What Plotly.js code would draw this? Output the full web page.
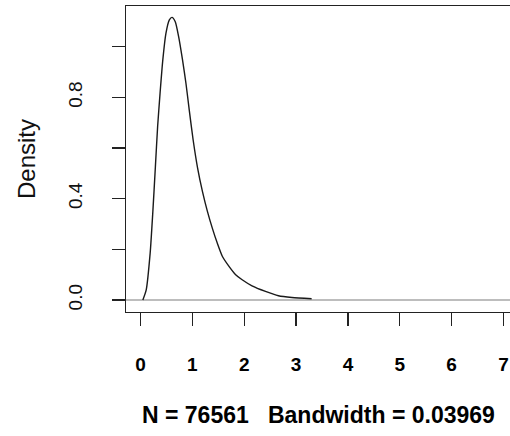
<!DOCTYPE html>
<html>
<head>
<meta charset="utf-8">
<script src="https://cdn.plot.ly/plotly-3.0.1.min.js"></script>
<style>
html,body{margin:0;padding:0;overflow:hidden;background:#fff;width:510px;height:436px;}
#chart{width:518px;height:436px;}
</style>
</head>
<body>
<div id="chart"></div>
<script>
// Density curve
const xValues = [0.045, 0.11, 0.186, 0.236, 0.287, 0.33, 0.377, 0.43, 0.49, 0.556, 0.607, 0.67, 0.735, 0.81, 0.876, 0.94, 1.015, 1.10, 1.195, 1.29, 1.386, 1.48, 1.58, 1.71, 1.835, 1.96, 2.15, 2.41, 2.66, 2.92, 3.3];
const densityValues = [0.0, 0.04, 0.185, 0.343, 0.527, 0.685, 0.817, 0.948, 1.053, 1.106, 1.116, 1.099, 1.04, 0.948, 0.856, 0.75, 0.632, 0.522, 0.428, 0.35, 0.283, 0.225, 0.172, 0.132, 0.10, 0.08, 0.056, 0.034, 0.017, 0.01, 0.005];
const xTicks = [0, 1, 2, 3, 4, 5, 6, 7];
const yTicks = [0, 0.2, 0.4, 0.6, 0.8, 1.0];
const yTickText = ["0.0", "", "0.4", "", "0.8", ""];
const subText = "N = 76561\u00A0\u00A0\u00A0Bandwidth = 0.03969";
const yTitle = "Density";

const trace = {
  x: xValues, y: densityValues, type: 'scatter', mode: 'lines',
  line: {color: '#1a1a1a', width: 1.4, shape: 'spline', smoothing: 0.6},
  hoverinfo: 'none'
};

const W = 518, L = 126;
const layout = {
  width: W, height: 436,
  margin: {l: L, r: 0, t: 6, b: 124},
  paper_bgcolor: '#fff', plot_bgcolor: '#fff',
  showlegend: false,
  xaxis: {
    range: [-0.28, 7.28], tickvals: xTicks, ticktext: xTicks.map(String),
    ticks: 'outside', ticklen: 13, tickwidth: 1.3, tickcolor: '#222',
    showline: true, mirror: true, linecolor: '#222', linewidth: 1.3,
    showgrid: false, zeroline: false,
    ticklabelstandoff: 22,
    tickfont: {family: 'Liberation Sans, Arial, sans-serif', size: 19, color: '#000', weight: 'bold'}
  },
  yaxis: {
    range: [-0.0473, 1.161], tickvals: yTicks, ticktext: yTickText,
    ticks: 'outside', ticklen: 13, tickwidth: 1.3, tickcolor: '#222',
    showline: true, mirror: false, linecolor: '#222', linewidth: 1.3,
    showgrid: false, zeroline: true, zerolinecolor: '#bdbdbd', zerolinewidth: 1.2,
    tickangle: -90, ticklabelstandoff: 22,
    tickfont: {family: 'Liberation Sans, Arial, sans-serif', size: 19, color: '#111'}
  },
  annotations: [
    {text: yTitle, xref: 'paper', yref: 'paper', x: (26 - L) / (W - L), y: (312 - 159) / 306,
     xanchor: 'center', yanchor: 'middle', textangle: -90, showarrow: false,
     font: {family: 'Liberation Sans, Arial, sans-serif', size: 24, color: '#111'}},
    {text: subText, xref: 'paper', yref: 'paper', x: (318 - L) / (W - L), y: (312 - 415) / 306,
     xanchor: 'center', yanchor: 'middle', showarrow: false,
     font: {family: 'Liberation Sans, Arial, sans-serif', size: 23, color: '#000', weight: 'bold'}}
  ]
};

Plotly.newPlot('chart', [trace], layout, {displayModeBar: false, staticPlot: true});
</script>
</body>
</html>
